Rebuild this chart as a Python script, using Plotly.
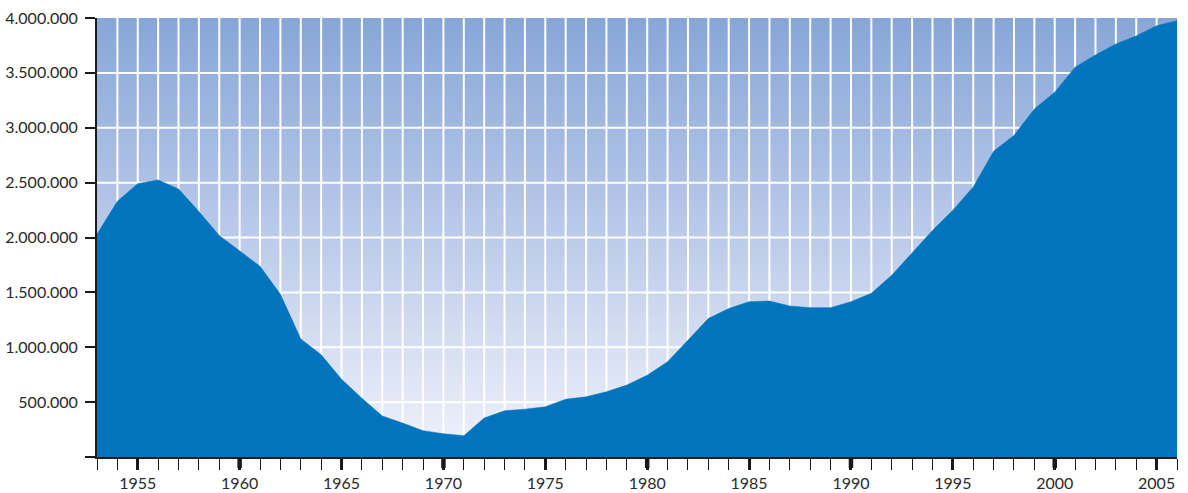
import plotly.graph_objects as go

# Annual totals, 1953-2006
years = list(range(1953, 2007))
values = [
    2030000, 2330000, 2490000, 2525000, 2442000, 2236000, 2018000, 1878000, 1738000, 1482000,
    1076000, 932000, 709000, 535000, 374000, 309000, 240000, 212000, 194000, 355000,
    421000, 436000, 457000, 527000, 548000, 594000, 655000, 745000, 867000, 1064000,
    1262000, 1352000, 1415000, 1421000, 1376000, 1361000, 1361000, 1415000, 1491000, 1655000,
    1864000, 2064000, 2248000, 2461000, 2785000, 2930000, 3170000, 3324000, 3552000, 3664000,
    3764000, 3836000, 3930000, 3976000,
]

y_ticks = [0, 500000, 1000000, 1500000, 2000000, 2500000, 3000000, 3500000, 4000000]
x_labels = [1955, 1960, 1965, 1970, 1975, 1980, 1985, 1990, 1995, 2000, 2005]

x_min, x_max = years[0], years[-1]
y_max = y_ticks[-1]


def fmt(v):
    return "" if v == 0 else f"{v:,}".replace(",", ".")


fig = go.Figure()

# Gradient backdrop of the plotting area
fig.add_trace(go.Scatter(
    x=[x_min, x_max, x_max, x_min, x_min],
    y=[0, 0, y_max, y_max, 0],
    mode="lines", line=dict(width=0),
    fill="toself",
    fillgradient=dict(type="vertical",
                      colorscale=[[0, "#f1f3fb"], [0.5, "#bccbea"], [1, "#87a6d7"]]),
    hoverinfo="skip", showlegend=False,
))

# White grid: one vertical line per year, horizontal every 500.000
gx, gy = [], []
for yr in years[1:-1]:
    gx += [yr, yr, None]
    gy += [0, y_max, None]
for v in y_ticks[1:-1]:
    gx += [x_min, x_max, None]
    gy += [v, v, None]
fig.add_trace(go.Scatter(x=gx, y=gy, mode="lines",
                         line=dict(color="white", width=2),
                         hoverinfo="skip", showlegend=False))

# Area series
fig.add_trace(go.Scatter(
    x=years, y=values, mode="lines",
    line=dict(color="#0074bc", width=0.5),
    fill="tozeroy", fillcolor="#0074bc",
    showlegend=False,
))

# Heavier tick marks at each decade
shapes = []
for yr in years:
    if yr % 10 == 0:
        shapes.append(dict(type="line", xref="x", yref="paper",
                           x0=yr, x1=yr, y0=0, y1=-0.025,
                           line=dict(color="#1a1a1a", width=4.5)))

fig.update_layout(
    width=1188, height=493,
    margin=dict(l=97, r=11, t=18, b=36, autoexpand=False),
    paper_bgcolor="white",
    plot_bgcolor="white",
    font=dict(family="Lato, 'Open Sans', sans-serif", size=16, color="#2a2a2a"),
    shapes=shapes,
    xaxis=dict(
        range=[x_min, x_max],
        tickvals=x_labels,
        ticktext=[str(v) for v in x_labels],
        ticks="outside", ticklen=11, tickwidth=2.5, tickcolor="#1a1a1a",
        minor=dict(dtick=1, tick0=x_min, ticks="outside", ticklen=11,
                   tickwidth=1.3, tickcolor="#1a1a1a", showgrid=False),
        showgrid=False, zeroline=False,
        showline=True, linecolor="#1a1a1a", linewidth=1.5,
        automargin=False, fixedrange=True,
    ),
    yaxis=dict(
        range=[0, y_max],
        tickvals=y_ticks,
        ticktext=[fmt(v) for v in y_ticks],
        ticks="outside", ticklen=10, tickwidth=1.5, tickcolor="#1a1a1a",
        ticklabelstandoff=4,
        showgrid=False, zeroline=False,
        showline=True, linecolor="#1a1a1a", linewidth=2,
        automargin=False, fixedrange=True,
    ),
)

fig.write_html("out.html")
